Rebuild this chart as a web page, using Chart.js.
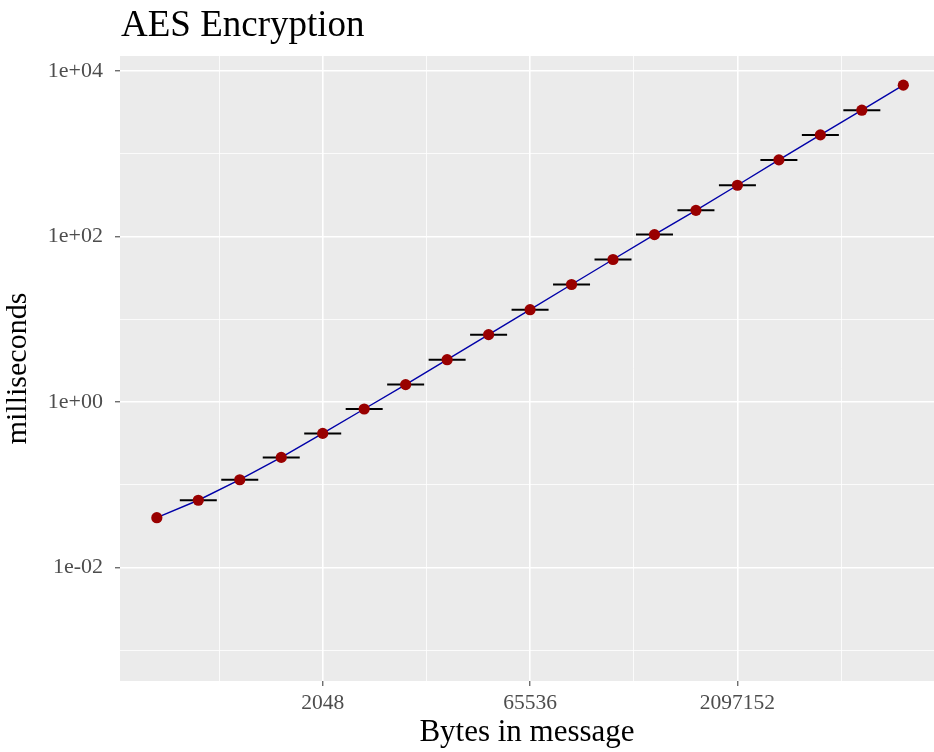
<!DOCTYPE html>
<html>
<head>
<meta charset="utf-8">
<script src="https://cdn.jsdelivr.net/npm/chart.js@4"></script>
<style>
  html, body { margin: 0; padding: 0; background: #ffffff; }
  #wrap { width: 934px; height: 752px; }
</style>
</head>
<body>
<div id="wrap"><canvas id="myChart" width="934" height="752"></canvas></div>
<script>
// Data
const messageBytes = [128, 256, 512, 1024, 2048, 4096, 8192, 16384, 32768, 65536,
  131072, 262144, 524288, 1048576, 2097152, 4194304, 8388608, 16777216, 33554432];
const encryptMs = [0.040, 0.065, 0.115, 0.214, 0.417, 0.822, 1.62, 3.24, 6.50, 13.0,
  26.2, 52.5, 105, 206, 414, 838, 1680, 3340, 6700];
// error bars (flat) for all but the first and last size
const barMs = [null, 0.065, 0.115, 0.214, 0.417, 0.822, 1.62, 3.24, 6.50, 13.0,
  26.2, 52.5, 105, 206, 414, 838, 1680, 3340, null];

// tick values, minor ones have an empty label
const xTickValues = [362.04, 2048, 11585.24, 65536, 370727.6, 2097152, 11863283];
const xTickLabels = ["", "2048", "", "65536", "", "2097152", ""];
const yTickValues = [0.001, 0.01, 0.1, 1, 10, 100, 1000, 10000];
const yTickLabels = ["", "1e-02", "", "1e+00", "", "1e+02", "", "1e+04"];

const serif = "'Liberation Serif', 'DejaVu Serif', serif";

const pts = (ys) => messageBytes.map((x, i) => ({ x: x, y: ys[i] }));

// grey panel + title drawn at the panel's left edge
const panelPlugin = {
  id: "panel",
  beforeDraw(chart) {
    const { ctx, chartArea: a } = chart;
    ctx.save();
    ctx.fillStyle = "#ebebeb";
    ctx.fillRect(a.left, a.top, a.right - a.left, a.bottom - a.top);
    ctx.restore();
  },
  afterDraw(chart) {
    const { ctx, chartArea: a } = chart;
    ctx.save();
    ctx.fillStyle = "#000000";
    ctx.font = "37px " + serif;
    ctx.textBaseline = "alphabetic";
    ctx.textAlign = "left";
    ctx.fillText("AES Encryption", a.left + 1, 36);
    ctx.restore();
  }
};

const isMajor = (c) => c.tick && c.tick.label !== "" && c.tick.label !== undefined;

const data = {
  datasets: [
    {
      label: "points",
      data: pts(encryptMs),
      showLine: false,
      pointRadius: 5.6,
      pointBorderWidth: 0,
      pointBackgroundColor: "#990000",
      order: 1
    },
    {
      label: "bars",
      data: pts(barMs),
      showLine: false,
      pointStyle: "line",
      pointRadius: 18.5,
      pointBorderWidth: 2,
      pointBorderColor: "#000000",
      order: 2
    },
    {
      label: "line",
      data: pts(encryptMs),
      showLine: true,
      borderColor: "#0000a8",
      borderWidth: 1.4,
      pointRadius: 0,
      order: 3
    }
  ]
};

const config = {
  type: "scatter",
  data: data,
  plugins: [panelPlugin],
  options: {
    responsive: false,
    animation: false,
    layout: { autoPadding: false, padding: { top: 56, right: 0, bottom: 0, left: 0 } },
    plugins: {
      legend: { display: false },
      tooltip: { enabled: false },
      title: { display: false }
    },
    scales: {
      x: {
        type: "logarithmic",
        min: Math.pow(2, 6.112),
        max: Math.pow(2, 25.74),
        afterBuildTicks: (s) => { s.ticks = xTickValues.map(v => ({ value: v })); },
        afterFit: (s) => { s.height = 71; s.paddingLeft = 0; s.paddingRight = 0; },
        border: { display: false },
        grid: {
          color: "#ffffff",
          lineWidth: (c) => isMajor(c) ? 1.6 : 0.8,
          tickColor: (c) => isMajor(c) ? "#333333" : "rgba(0,0,0,0)",
          tickLength: 5,
          tickWidth: 1
        },
        ticks: {
          autoSkip: false,
          maxRotation: 0,
          padding: 4,
          color: "#4d4d4d",
          font: { family: serif, size: 21.5 },
          callback: (v, i) => xTickLabels[i]
        },
        title: {
          display: true,
          text: "Bytes in message",
          color: "#000000",
          font: { family: serif, size: 31 },
          padding: { top: 0, bottom: 1 }
        }
      },
      y: {
        type: "logarithmic",
        min: Math.pow(10, -3.37),
        max: Math.pow(10, 4.178),
        afterBuildTicks: (s) => { s.ticks = yTickValues.map(v => ({ value: v })); },
        afterFit: (s) => { s.width = 120; s.paddingTop = 0; s.paddingBottom = 0; },
        border: { display: false },
        grid: {
          color: "#ffffff",
          lineWidth: (c) => isMajor(c) ? 1.6 : 0.8,
          tickColor: (c) => isMajor(c) ? "#333333" : "rgba(0,0,0,0)",
          tickLength: 5,
          tickWidth: 1
        },
        ticks: {
          autoSkip: false,
          padding: 12,
          color: "#4d4d4d",
          font: { family: serif, size: 22 },
          callback: (v, i) => yTickLabels[i]
        },
        title: {
          display: true,
          text: "milliseconds",
          color: "#000000",
          font: { family: serif, size: 30 },
          padding: { top: 0, bottom: 0 }
        }
      }
    }
  }
};

// Plotting
const myChart = document.getElementById("myChart").getContext("2d");
new Chart(myChart, config);
</script>
</body>
</html>
